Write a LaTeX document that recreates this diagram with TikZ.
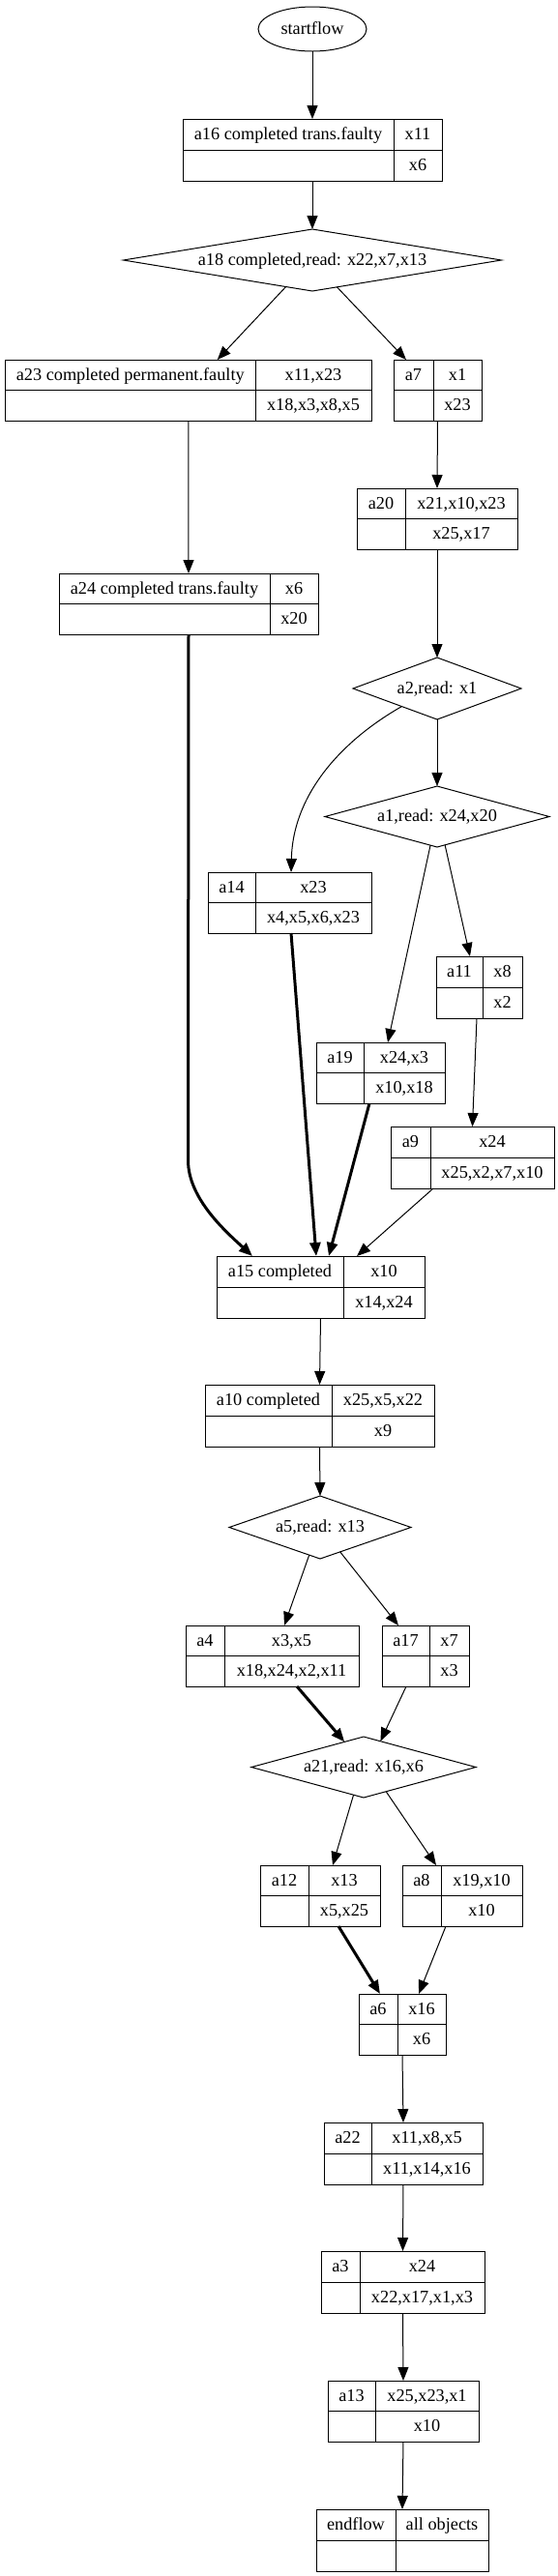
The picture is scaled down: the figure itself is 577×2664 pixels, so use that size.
\documentclass[tikz,border=0pt]{standalone}
\usepackage{fontspec}
\setmainfont{Liberation Serif}
\usetikzlibrary{arrows.meta,shapes.geometric,fit,calc}
\newcommand\recbox[9]{%
  \node[recframe, fit={(#2,#3) (#4,#5)}] (#1) {};
  \draw (#6,#3) -- (#6,#5);
  \draw (#2,{(#3+#5)/2}) -- (#4,{(#3+#5)/2});
  \node[lbl] (#1-tl) at ({(#2+#6)/2},{(3*#3+#5)/4}) {#7};
  \node[lbl] (#1-tr) at ({(#6+#4)/2},{(3*#3+#5)/4}) {#8};
  \node[lbl] (#1-br) at ({(#6+#4)/2},{(#3+3*#5)/4}) {#9};
}
\begin{document}
\begin{tikzpicture}[x=0.75pt,y=-0.75pt,line width=0.75pt,
  every node/.style={font=\fontsize{13.7}{16}\selectfont},
  lbl/.style={inner sep=0pt, text height=10pt, text depth=2pt, anchor=center},
  recframe/.style={draw, inner sep=0pt, outer sep=0pt},
  dia/.style={draw, diamond, inner sep=0pt, outer sep=0pt},
  arr/.style={line width=0.75pt, -{Triangle[length=10.5pt,width=8.25pt]}},
  thickarr/.style={line width=2.25pt, -{Triangle[length=10.5pt,width=8.25pt]}},
]
\fill[white] (0,0) rectangle (577,2664);
\useasboundingbox (0,0) rectangle (577,2664);

% start
\node[draw, ellipse, inner sep=0pt, outer sep=0pt, minimum width=112*0.75pt, minimum height=46*0.75pt,
      text height=10pt, text depth=2pt] (start) at (323,30) {startflow};

% records
\recbox{a16}{189}{123}{457}{187}{407}{a16 completed trans.faulty}{x11}{x6}
\recbox{a23}{5.5}{372}{384}{435}{264}{a23 completed permanent.faulty}{x11,x23}{x18,x3,x8,x5}
\recbox{a7}{407}{372}{498}{435}{448}{a7}{x1}{x23}
\recbox{a20}{369}{505}{535}{568}{419}{a20}{x21,x10,x23}{x25,x17}
\recbox{a24}{61}{593}{329}{656}{279}{a24 completed trans.faulty}{x6}{x20}
\recbox{a14}{215}{902}{384}{965}{264}{a14}{x23}{x4,x5,x6,x23}
\recbox{a11}{451}{989}{540}{1053}{499}{a11}{x8}{x2}
\recbox{a19}{327}{1078}{460}{1141}{376}{a19}{x24,x3}{x10,x18}
\recbox{a9}{404}{1165}{573}{1229}{445}{a9}{x24}{x25,x2,x7,x10}
\recbox{a15}{224}{1299}{439}{1363}{355}{a15 completed}{x10}{x14,x24}
\recbox{a10}{212}{1432}{449}{1496}{343}{a10 completed}{x25,x5,x22}{x9}
\recbox{a4}{192}{1681}{371}{1744}{232}{a4}{x3,x5}{x18,x24,x2,x11}
\recbox{a17}{395}{1681}{485}{1744}{444}{a17}{x7}{x3}
\recbox{a12}{269}{1929}{393}{1992}{319}{a12}{x13}{x5,x25}
\recbox{a8}{416}{1929}{540}{1992}{456}{a8}{x19,x10}{x10}
\recbox{a6}{371}{2062}{461}{2125}{411}{a6}{x16}{x6}
\recbox{a22}{335}{2195}{499}{2259}{384}{a22}{x11,x8,x5}{x11,x14,x16}
\recbox{a3}{332}{2328}{501}{2392}{372}{a3}{x24}{x22,x17,x1,x3}
\recbox{a13}{339}{2462}{495}{2525}{388}{a13}{x25,x23,x1}{x10}
\recbox{endflow}{327}{2595}{505}{2659}{409}{endflow}{all objects}{}

% decisions
\node[dia, minimum width=391*0.75pt, minimum height=64*0.75pt] (a18) at (323,269) {};
\node[lbl] (a18-t) at (a18.center) {a18 completed,read: x22,x7,x13};
\node[dia, minimum width=174*0.75pt, minimum height=64*0.75pt] (a2) at (452,712) {};
\node[lbl] (a2-t) at (a2.center) {a2,read: x1};
\node[dia, minimum width=232*0.75pt, minimum height=63*0.75pt] (a1) at (452,844.5) {};
\node[lbl] (a1-t) at (a1.center) {a1,read: x24,x20};
\node[dia, minimum width=188*0.75pt, minimum height=65*0.75pt] (a5) at (331,1579.5) {};
\node[lbl] (a5-t) at (a5.center) {a5,read: x13};
\node[dia, minimum width=232*0.75pt, minimum height=63*0.75pt] (a21) at (376,1827.5) {};
\node[lbl] (a21-t) at (a21.center) {a21,read: x16,x6};

% connectors
\draw[arr] (start.south) -- (a16.north);
\draw[arr] (a16.south) -- (a18.north);
\draw[arr] ($(a18.south)!0.14!(a18.west)$) -- ($(a23.north)+(30,0)$);
\draw[arr] ($(a18.south)!0.13!(a18.east)$) -- ($(a7.north)+(-32.5,0)$);
\draw[arr] (a23.south) -- (a24.north);
\draw[arr] (a7.south) -- (a20.north);
\draw[arr] (a20.south) -- (a2.north);
\draw[arr] (a2.south) -- (a1.north);
\draw[arr] ($(a2.south)!0.42!(a2.west)$) .. controls (355,765) and (303,820) .. ($(a14.north)+(1.5,0)$);
\draw[arr] ($(a1.south)!0.06!(a1.west)$) -- ($(a19.north)+(7.5,0)$);
\draw[arr] ($(a1.south)!0.07!(a1.east)$) -- ($(a11.north)+(-9.5,0)$);
\draw[arr] ($(a11.south)+(-2.5,0)$) -- (a9.north);
\draw[thickarr] (a24.south) -- (194.5,1200) .. controls (194.5,1240) and (235,1275) .. ($(a15.north)+(-70.5,0)$);
\draw[thickarr] ($(a14.south)+(1.5,0)$) -- ($(a15.north)+(-4.5,0)$);
\draw[thickarr] ($(a19.south)+(-11.5,0)$) -- ($(a15.north)+(8.5,0)$);
\draw[arr] ($(a9.south)+(-40.5,0)$) -- ($(a15.north)+(37.5,0)$);
\draw[arr] (a15.south) -- (a10.north);
\draw[arr] (a10.south) -- (a5.north);
\draw[arr] ($(a5.south)!0.12!(a5.west)$) -- ($(a4.north)+(12.5,0)$);
\draw[arr] ($(a5.south)!0.22!(a5.east)$) -- ($(a17.north)+(-28,0)$);
\draw[thickarr] ($(a4.south)+(25.5,0)$) -- ($(a21.north)!0.17!(a21.west)$);
\draw[arr] ($(a17.south)+(-20,0)$) -- ($(a21.north)!0.15!(a21.east)$);
\draw[arr] ($(a21.south)!0.09!(a21.west)$) -- ($(a12.north)+(13,0)$);
\draw[arr] ($(a21.south)!0.2!(a21.east)$) -- ($(a8.north)+(-27,0)$);
\draw[thickarr] ($(a12.south)+(19,0)$) -- ($(a6.north)+(-23,0)$);
\draw[arr] ($(a8.south)+(-17,0)$) -- ($(a6.north)+(17,0)$);
\draw[arr] (a6.south) -- (a22.north);
\draw[arr] (a22.south) -- (a3.north);
\draw[arr] (a3.south) -- (a13.north);
\draw[arr] (a13.south) -- (endflow.north);
\end{tikzpicture}
\end{document}
